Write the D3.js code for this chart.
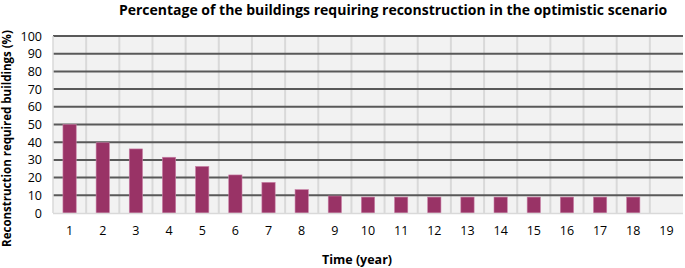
<!DOCTYPE html>
<html>
<head>
<meta charset="utf-8">
<script src="https://cdn.jsdelivr.net/npm/d3@7"></script>
<style>
  body { margin: 0; background: #fff; }
  svg { overflow: visible; }
  text { font-family: "Open Sans", "DejaVu Sans", sans-serif; }
</style>
</head>
<body>
<script>
// Percentage of buildings requiring reconstruction, optimistic scenario

const years = [1, 2, 3, 4, 5, 6, 7, 8, 9, 10, 11, 12, 13, 14, 15, 16, 17, 18, 19];
const percentRequired = [50, 39.7, 36.2, 31.5, 26.3, 21.5, 17.3, 13.2, 9.6, 9, 9, 9, 9, 9, 9, 9, 9, 9, null];
const yTicks = [0, 10, 20, 30, 40, 50, 60, 70, 80, 90, 100];

const width = 685, height = 268;
const margin = {top: 36, right: 2, bottom: 55, left: 53};
const innerWidth = width - margin.left - margin.right;
const innerHeight = height - margin.top - margin.bottom;

const svg = d3.select("body").append("svg")
    .attr("width", width)
    .attr("height", height);

const g = svg.append("g")
    .attr("transform", "translate(" + margin.left + "," + margin.top + ")");

const x = d3.scaleBand()
    .domain(years)
    .range([0, innerWidth])
    .paddingInner(0)
    .paddingOuter(0);

const y = d3.scaleLinear()
    .domain([0, 100])
    .range([innerHeight, 0]);

// plot background
g.append("rect")
    .attr("width", innerWidth)
    .attr("height", innerHeight)
    .attr("fill", "#f2f2f2");

// vertical grid (light)
g.append("g")
  .selectAll("line")
  .data(years.slice(1))
  .enter().append("line")
    .attr("x1", d => x(d)).attr("x2", d => x(d))
    .attr("y1", 0).attr("y2", innerHeight)
    .attr("stroke", "#d9d9d9")
    .attr("stroke-width", 2);

// horizontal grid (dark)
g.append("g")
  .selectAll("line")
  .data(yTicks.slice(1))
  .enter().append("line")
    .attr("x1", 0).attr("x2", innerWidth)
    .attr("y1", d => y(d)).attr("y2", d => y(d))
    .attr("stroke", "#595959")
    .attr("stroke-width", 2);

// bars
const barW = x.bandwidth() * 0.4;
g.selectAll(".bar")
  .data(years.map((d, i) => ({year: d, value: percentRequired[i]})).filter(d => d.value != null))
  .enter().append("rect")
    .attr("class", "bar")
    .attr("x", d => x(d.year) + (x.bandwidth() - barW) / 2)
    .attr("width", barW)
    .attr("y", d => y(d.value))
    .attr("height", d => innerHeight - y(d.value))
    .attr("fill", "#993366")
    .attr("stroke", "#c97fa6")
    .attr("stroke-width", 0.6);

// left edge and baseline
g.append("line")
    .attr("x1", 0).attr("x2", 0).attr("y1", 0).attr("y2", innerHeight)
    .attr("stroke", "#d9d9d9").attr("stroke-width", 1.5);
g.append("line")
    .attr("x1", 0).attr("x2", innerWidth).attr("y1", innerHeight + 0.5).attr("y2", innerHeight + 0.5)
    .attr("stroke", "#d9d9d9").attr("stroke-width", 1.5);

// axes
const yAxis = g.append("g")
    .call(d3.axisLeft(y).tickValues(yTicks).tickSize(0).tickPadding(11));
yAxis.select(".domain").remove();
yAxis.selectAll("text")
    .style("font-size", "12.5px")
    .attr("fill", "#000");

const xAxis = g.append("g")
    .attr("transform", "translate(0," + innerHeight + ")")
    .call(d3.axisBottom(x).tickSize(0).tickPadding(13));
xAxis.select(".domain").remove();
xAxis.selectAll("text")
    .style("font-size", "12.5px")
    .attr("fill", "#000");

// titles
svg.append("text")
    .attr("x", 393)
    .attr("y", 15)
    .attr("text-anchor", "middle")
    .style("font-size", "14px")
    .style("font-weight", "bold")
    .text("Percentage of the buildings requiring reconstruction in the optimistic scenario");

svg.append("text")
    .attr("x", 357)
    .attr("y", 264)
    .attr("text-anchor", "middle")
    .style("font-size", "12.5px")
    .style("font-weight", "bold")
    .text("Time (year)");

svg.append("text")
    .attr("transform", "translate(11," + (margin.top + innerHeight / 2 + 14) + ") rotate(-90)")
    .attr("text-anchor", "middle")
    .style("font-size", "11.5px")
    .style("font-weight", "bold")
    .text("Reconstruction required buildings (%)");
</script>
</body>
</html>
